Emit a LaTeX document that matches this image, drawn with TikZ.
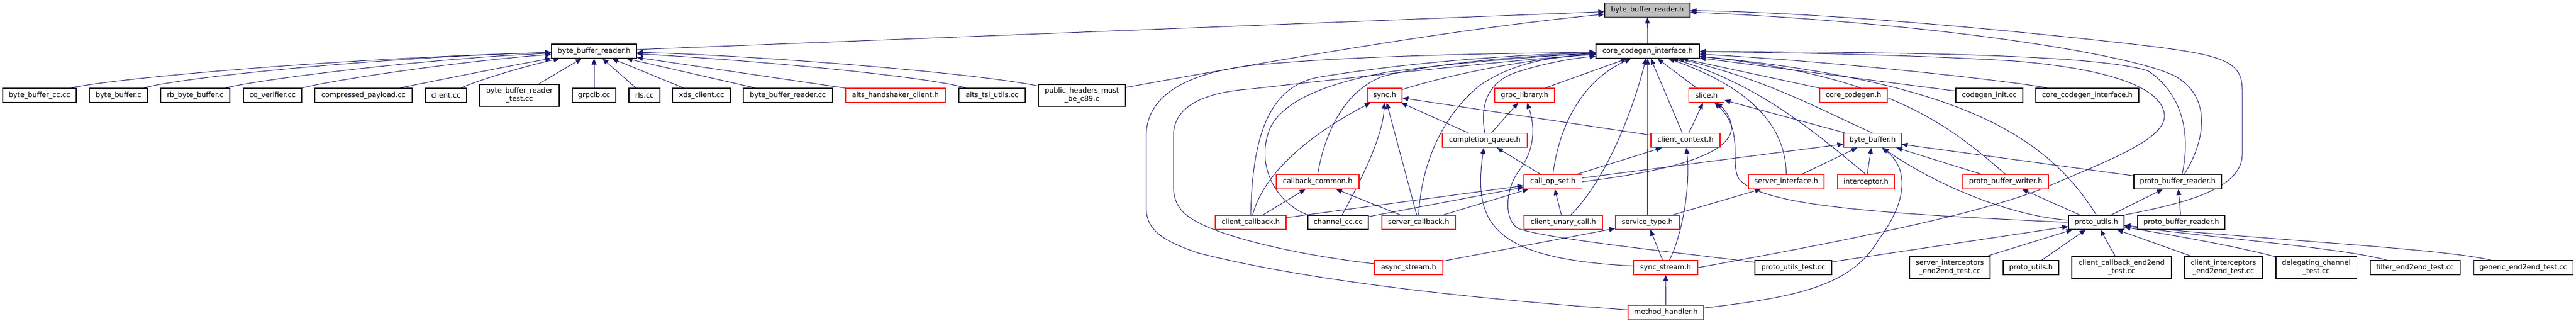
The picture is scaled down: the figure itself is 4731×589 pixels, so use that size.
\documentclass[tikz,border=0pt]{standalone}
\usepackage{fontspec}
\newfontfamily\dvs{DejaVu Sans}
\usetikzlibrary{arrows.meta}
\definecolor{mblue}{RGB}{25,25,112}
\pgfdeclarelayer{bg}
\pgfsetlayers{bg,main}
\begin{document}
\begin{tikzpicture}[x=1pt,y=-1pt,
  nb/.style={draw=black, fill=white, line width=1.1pt, minimum height=26pt, inner sep=0pt, font=\dvs\fontsize{12.9}{15}\selectfont},
  nr/.style={nb, draw=red},
  ng/.style={nb, fill=gray!50},
  two/.style={minimum height=40pt, align=center},
  e/.style={draw=mblue, line width=1pt, -{Triangle[length=11pt,width=9pt]}, mblue}]
\useasboundingbox (0,0) rectangle (4731,589);
% row A
\node[ng, minimum width=157pt] (gray) at (3025.5,18.5) {byte\_buffer\_reader.h};
% row B
\node[nb, minimum width=156pt] (bbr2) at (1091,94) {byte\_buffer\_reader.h};
\node[nb, minimum width=190pt] (cci) at (3026,94) {core\_codegen\_interface.h};
% row C
\node[nb, minimum width=135pt] (bbcc) at (72.5,175) {byte\_buffer\_cc.cc};
\node[nb, minimum width=107pt] (bbc) at (217.5,175) {byte\_buffer.c};
\node[nb, minimum width=127pt] (rbbb) at (358.5,175) {rb\_byte\_buffer.c};
\node[nb, minimum width=107pt] (cqv) at (500.5,175) {cq\_verifier.cc};
\node[nb, minimum width=179pt] (cp) at (667.5,175) {compressed\_payload.cc};
\node[nb, minimum width=76pt] (clcc) at (819,175) {client.cc};
\node[nb, two, minimum width=146pt] (bbrt) at (954,175) {byte\_buffer\_reader\\\_test.cc};
\node[nb, minimum width=80pt] (grpclb) at (1091,175) {grpclb.cc};
\node[nb, minimum width=57pt] (rls) at (1183.5,175) {rls.cc};
\node[nb, minimum width=107pt] (xds) at (1288.5,175) {xds\_client.cc};
\node[nb, minimum width=164pt] (bbrcc) at (1447,175) {byte\_buffer\_reader.cc};
\node[nr, minimum width=183pt] (ahc) at (1644.5,175) {alts\_handshaker\_client.h};
\node[nb, minimum width=122pt] (atu) at (1822,175) {alts\_tsi\_utils.cc};
\node[nb, two, minimum width=160pt] (ph) at (1987,175) {public\_headers\_must\\\_be\_c89.c};
\node[nr, minimum width=64pt] (sync) at (2543,175) {sync.h};
\node[nr, minimum width=110pt] (grpc) at (2800,175) {grpc\_library.h};
\node[nr, minimum width=65pt] (slice) at (3134,175) {slice.h};
\node[nr, minimum width=124pt] (ccg) at (3404,175) {core\_codegen.h};
\node[nb, minimum width=123pt] (cgi) at (3653.5,175) {codegen\_init.cc};
\node[nb, minimum width=189pt] (cci2) at (3833.5,175) {core\_codegen\_interface.h};
% row D
\node[nr, minimum width=156pt] (cq) at (2727,257.5) {completion\_queue.h};
\node[nr, minimum width=127pt] (ctx) at (3095.5,257.5) {client\_context.h};
\node[nr, minimum width=106pt] (bbh) at (3439,257.5) {byte\_buffer.h};
% row E
\node[nr, minimum width=152pt] (cbc) at (2420,333.5) {callback\_common.h};
\node[nr, minimum width=107pt] (cos) at (2852,333.5) {call\_op\_set.h};
\node[nr, minimum width=139pt] (si) at (3280.5,333.5) {server\_interface.h};
\node[nr, minimum width=104pt] (icp) at (3427,333.5) {interceptor.h};
\node[nr, minimum width=157pt] (pbw) at (3683.5,333.5) {proto\_buffer\_writer.h};
\node[nb, minimum width=161pt] (pbrE) at (3999.5,333.5) {proto\_buffer\_reader.h};
% row F
\node[nr, minimum width=130pt] (ccb) at (2297,408) {client\_callback.h};
\node[nb, minimum width=111pt] (chcc) at (2457.5,408) {channel\_cc.cc};
\node[nr, minimum width=135pt] (scb) at (2605.5,408) {server\_callback.h};
\node[nr, minimum width=144pt] (cuc) at (2871,408) {client\_unary\_call.h};
\node[nr, minimum width=117pt] (st) at (3025.5,408) {service\_type.h};
\node[nb, minimum width=102pt] (puF) at (3850,408) {proto\_utils.h};
\node[nb, minimum width=160pt] (pbrF) at (4006,408) {proto\_buffer\_reader.h};
% row G
\node[nr, minimum width=126pt] (as) at (2587,491) {async\_stream.h};
\node[nr, minimum width=118pt] (ss) at (3059,491) {sync\_stream.h};
\node[nb, minimum width=141pt] (put) at (3293.5,491) {proto\_utils\_test.cc};
\node[nb, two, minimum width=148pt] (sie) at (3581,491) {server\_interceptors\\\_end2end\_test.cc};
\node[nb, minimum width=102pt] (puG) at (3730,491) {proto\_utils.h};
\node[nb, two, minimum width=183pt] (cce) at (3896.5,491) {client\_callback\_end2end\\\_test.cc};
\node[nb, two, minimum width=143pt] (cie) at (4083.5,491) {client\_interceptors\\\_end2end\_test.cc};
\node[nb, two, minimum width=148pt] (dct) at (4254,491) {delegating\_channel\\\_test.cc};
\node[nb, minimum width=165pt] (fet) at (4435.5,491) {filter\_end2end\_test.cc};
\node[nb, minimum width=182pt] (get) at (4634,491) {generic\_end2end\_test.cc};
% row H
\node[nr, minimum width=139pt] (mh) at (3059.5,573.5) {method\_handler.h};

\begin{pgfonlayer}{bg}
% into second byte_buffer_reader.h
\draw[e] (bbcc) .. controls (200,145) and (600,108) .. (bbr2);
\draw[e] (bbc) .. controls (330,142) and (700,105) .. (bbr2);
\draw[e] (rbbb) .. controls (480,145) and (780,108) .. (bbr2);
\draw[e] (cqv) .. controls (620,145) and (850,112) .. (bbr2);
\draw[e] (cp) .. controls (800,148) and (950,118) .. (bbr2);
\draw[e] (clcc) .. controls (870,150) and (960,122) .. (bbr2);
\draw[e] (bbrt) -- (bbr2);
\draw[e] (grpclb) -- (bbr2);
\draw[e] (rls) -- (bbr2);
\draw[e] (xds) -- (bbr2);
\draw[e] (bbrcc) -- (bbr2);
\draw[e] (ahc) -- (bbr2);
\draw[e] (atu) .. controls (1700,140) and (1400,112) .. (bbr2);
\draw[e] (ph) .. controls (1800,135) and (1400,102) .. (bbr2);
% into the top node
\draw[e] (bbr2) -- (gray);
\draw[e] (ph) .. controls (2400,100) and (2700,50) .. (gray);
\draw[e] (cci) -- (gray);
\draw[e] (puF.north east) .. controls (4000,375) and (4118,350) .. (4118,283) -- (4118,165) .. controls (4118,110) and (4080,100) .. (3917,81) .. controls (3600,45) and (3300,22) .. (gray);
\draw[e] ([xshift=12pt]pbrE.north) .. controls (4055,250) and (4058,175) .. (3995,140) .. controls (3930,105) and (3600,45) .. (gray);
% into core_codegen_interface.h from the left
\draw[e] (ccb.north) .. controls (2300,250) and (2330,160) .. (2420,142) .. controls (2600,112) and (2800,100) .. (cci);
\draw[e] (chcc.north west) .. controls (2340,370) and (2305,300) .. (2333,234) .. controls (2360,180) and (2450,150) .. (2550,132) .. controls (2700,112) and (2850,102) .. (cci);
\draw[e] (cbc.north) .. controls (2430,260) and (2460,170) .. (2540,140) .. controls (2650,112) and (2820,102) .. (cci);
\draw[e] (sync) .. controls (2650,140) and (2800,108) .. (cci);
\draw[e] (scb.north) .. controls (2610,300) and (2650,210) .. (2720,155) .. controls (2780,115) and (2850,104) .. (cci);
\draw[e] (cq.north) .. controls (2718,195) and (2730,150) .. (2787,132) .. controls (2840,115) and (2890,107) .. (cci);
\draw[e] (mh) .. controls (2700,548) and (2400,515) .. (2200,464) .. controls (2130,440) and (2105,420) .. (2105,380) -- (2105,250) .. controls (2105,180) and (2170,135) .. (2300,120) .. controls (2500,100) and (2800,98) .. (cci);
\draw[e] (as) .. controls (2400,470) and (2260,440) .. (2200,408) .. controls (2170,392) and (2155,375) .. (2155,340) -- (2155,250) .. controls (2155,200) and (2200,170) .. (2300,163) .. controls (2500,140) and (2800,108) .. (cci);
% into core_codegen_interface.h from below
\draw[e] (grpc) -- (cci);
\draw[e] (cos.north) .. controls (2862,240) and (2900,150) .. (cci);
\draw[e] (cuc) .. controls (2950,330) and (3000,200) .. (cci);
\draw[e] (st) -- (cci);
\draw[e] (ctx) -- (cci);
\draw[e] (slice) -- (cci);
\draw[e] (si.north) .. controls (3280,250) and (3240,170) .. (cci);
\draw[e] (icp.north) .. controls (3330,240) and (3230,155) .. (cci);
\draw[e] (bbh.north) .. controls (3340,200) and (3250,148) .. (cci);
\draw[e] (pbw.north) .. controls (3590,240) and (3480,140) .. (cci);
\draw[e] (puF.north) .. controls (3760,250) and (3600,150) .. (cci);
\draw[e] (ccg) -- (cci);
\draw[e] (cgi) -- (cci);
\draw[e] (cci2) .. controls (3700,150) and (3400,115) .. (cci);
\draw[e] ([xshift=8pt]pbrE.north) .. controls (4025,240) and (4005,170) .. (3945,130) .. controls (3850,100) and (3500,96) .. (cci);
\draw[e] (ss.east) .. controls (3400,440) and (3650,390) .. (3766,340) .. controls (3870,295) and (3980,255) .. (3975,210) .. controls (3970,165) and (3890,128) .. (3700,112) .. controls (3500,100) and (3300,97) .. (cci);
% sync.h
\draw[e] (ccb) .. controls (2320,320) and (2400,250) .. (sync);
\draw[e] (chcc) .. controls (2500,330) and (2540,250) .. (sync);
\draw[e] (scb) -- (sync);
\draw[e] (cq) -- (sync);
\draw[e] (ctx) -- (sync);
% grpc_library.h
\draw[e] (cq) -- (grpc);
\draw[e] (put) .. controls (3100,465) and (2850,440) .. (2790,420) .. controls (2760,405) and (2765,345) .. (2790,313) .. controls (2815,280) and (2822,240) .. (grpc);
% completion_queue.h
\draw[e] (ss) .. controls (2740,475) and (2705,410) .. (cq);
\draw[e] (cos) -- (cq);
% call_op_set.h and callback_common.h
\draw[e] (cos) -- (ctx);
\draw[e] (cos) -- (bbh);
\draw[e] (cos.east) .. controls (3080,312) and (3185,280) .. (3180,230) .. controls (3177,210) and (3162,196) .. (slice);
\draw[e] (ccb) -- (cos);
\draw[e] (chcc) -- (cos);
\draw[e] (scb) -- (cos);
\draw[e] (cuc) -- (cos);
\draw[e] (ccb) -- (cbc);
\draw[e] (scb) -- (cbc);
% service_type.h, sync_stream.h, method_handler.h
\draw[e] (as) -- (st);
\draw[e] (ss) -- (st);
\draw[e] (ss) .. controls (3090,430) and (3105,340) .. (ctx);
\draw[e] (mh) -- (ss);
\draw[e] (mh) .. controls (3300,545) and (3400,525) .. (3450,440) .. controls (3510,360) and (3500,305) .. (bbh);
\draw[e] (st) -- (si);
% byte_buffer.h and slice.h
\draw[e] (puF) .. controls (3680,395) and (3540,330) .. (bbh);
\draw[e] (pbw) -- (bbh);
\draw[e] (pbrE) -- (bbh);
\draw[e] (si) -- (bbh);
\draw[e] (icp) -- (bbh);
\draw[e] (bbh) -- (slice);
\draw[e] (ctx) -- (slice);
\draw[e] (puF.west) .. controls (3450,392) and (3240,378) .. (3195,330) .. controls (3175,305) and (3205,240) .. (slice);
% proto utils cluster
\draw[e] (pbrF) -- (pbrE);
\draw[e] (puF) -- (pbw);
\draw[e] (puF) -- (pbrE);
\draw[e] (put) -- (puF);
\draw[e] (sie) -- (puF);
\draw[e] (puG) -- (puF);
\draw[e] (cce) -- (puF);
\draw[e] (cie) -- (puF);
\draw[e] (dct) .. controls (4100,450) and (3980,430) .. (puF);
\draw[e] (fet) .. controls (4300,455) and (4100,440) .. (puF);
\draw[e] (get) .. controls (4480,455) and (4150,440) .. (puF);
\end{pgfonlayer}
\end{tikzpicture}
\end{document}
